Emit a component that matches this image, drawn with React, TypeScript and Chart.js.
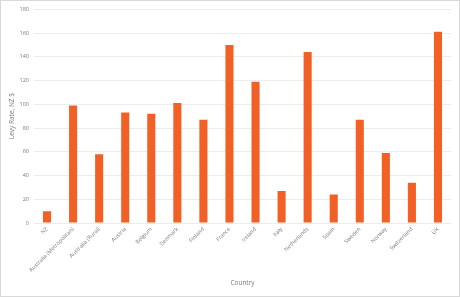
import React, { useEffect, useRef } from "react";
import { Chart, registerables } from "chart.js";

Chart.register(...registerables);

const categories = [
  "NZ",
  "Australia (Metropolitan)",
  "Australia (Rural)",
  "Austria",
  "Belgium",
  "Denmark",
  "Finland",
  "France",
  "Ireland",
  "Italy",
  "Netherlands",
  "Spain",
  "Sweden",
  "Norway",
  "Switzerland",
  "UK",
];
const levyRates = [10, 99, 58, 93, 92, 101, 87, 150, 119, 27, 144, 24, 87, 59, 34, 161];
const yMin = 0;
const yMax = 180;
const yStep = 20;
const xTitle = "Country";
const yTitle = "Levy Rate, NZ $";

export default function App() {
  const ref = useRef<HTMLCanvasElement | null>(null);

  useEffect(() => {
    document.body.style.margin = "0";
    const canvas = ref.current;
    if (!canvas) return;
    const font = { family: "'Open Sans', 'Liberation Sans', sans-serif", size: 5.5 };
    const color = "#7a7a7a";
    const chart = new Chart(canvas, {
      type: "bar",
      data: {
        labels: categories,
        datasets: [
          {
            data: levyRates,
            backgroundColor: "#F26026",
            borderWidth: 0,
            categoryPercentage: 1,
            barPercentage: 0.31,
          },
        ],
      },
      options: {
        animation: false,
        responsive: false,
        maintainAspectRatio: false,
        layout: { padding: { left: 0, right: 8, top: 6, bottom: 0 } },
        plugins: {
          legend: { display: false },
          tooltip: { enabled: false },
        },
        scales: {
          x: {
            grid: { display: false, drawTicks: false },
            border: { display: false },
            ticks: {
              color,
              font,
              maxRotation: 45,
              minRotation: 45,
              autoSkip: false,
              padding: 3,
            },
            title: {
              display: true,
              text: xTitle,
              color,
              font: { ...font, size: 6.5 },
              padding: { top: 0, bottom: 9 },
            },
            afterFit: (s: any) => {
              s.height = 73;
            },
          },
          y: {
            min: yMin,
            max: yMax,
            grid: { color: "#ececec", lineWidth: 1, drawTicks: false },
            border: { display: false },
            ticks: { stepSize: yStep, color, font, padding: 5 },
            title: {
              display: true,
              text: yTitle,
              color,
              font: { ...font, size: 6.5 },
              padding: { top: 7, bottom: 0 },
            },
            afterFit: (s: any) => {
              s.width = 33;
            },
          },
        },
      },
    });
    return () => chart.destroy();
  }, []);

  return (
    <div
      style={{
        width: 460,
        height: 297,
        border: "1px solid #d9d9d9",
        boxSizing: "border-box",
        background: "#fff",
      }}
    >
      <canvas ref={ref} width={458} height={295} style={{ display: "block" }} />
    </div>
  );
}
